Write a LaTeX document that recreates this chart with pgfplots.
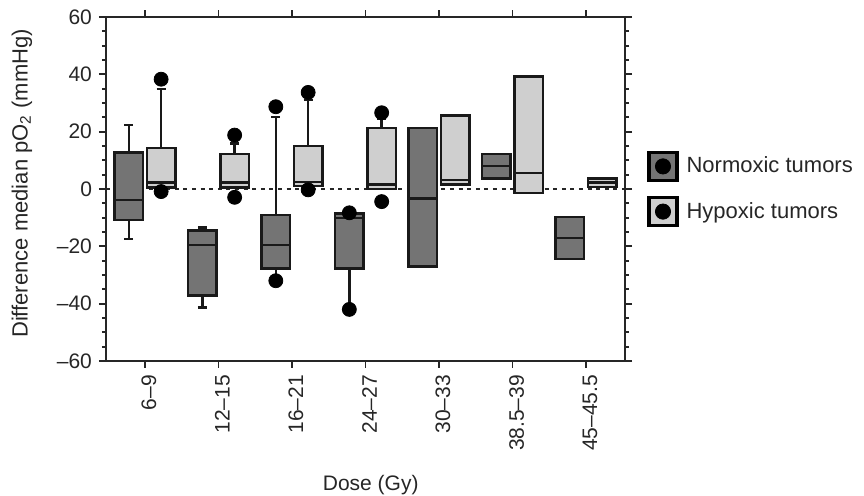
\documentclass[border=0pt]{standalone}
\usepackage{pgfplots}
\pgfplotsset{compat=1.18}
\usepgfplotslibrary{statistics}
\usepackage{fontspec}
\setmainfont{Liberation Sans}
\definecolor{normgray}{HTML}{747474}
\definecolor{hypgray}{HTML}{CFCFCF}
\definecolor{txt}{HTML}{262626}
\begin{document}
\begin{tikzpicture}
\begin{axis}[
  at={(0,0)}, anchor=south west,
  scale only axis,
  width=259.5pt, height=172pt,
  xmin=0.47, xmax=7.53,
  ymin=-60, ymax=60,
  boxplot/draw direction=y,
  axis line style={line width=1pt, black!85},
  tick style={line width=0.9pt, black!85},
  tick align=outside,
  major tick length=3.5pt,
  minor tick length=2pt,
  xtick={1,2,3,4,5,6,7},
  xticklabels={6--9,12--15,16--21,24--27,30--33,38.5--39,45--45.5},
  ytick={-60,-40,-20,0,20,40,60},
  yticklabels={--60,--40,--20,0,20,40,60},
  minor y tick num=3,
  xtick pos=both, ytick pos=both,
  tick label style={font=\fontsize{10.5}{12}\selectfont, text=txt},
  xticklabel style={rotate=90, anchor=east, yshift=-2pt},
  ylabel={Difference median pO\textsubscript{2} (mmHg)},
  xlabel={Dose (Gy)},
  every axis y label/.style={at={(axis description cs:-0.162,0.516)}, rotate=90, anchor=center, font=\fontsize{11}{13}\selectfont, text=txt},
  every axis x label/.style={at={(axis description cs:0.51,-0.36)}, anchor=center, font=\fontsize{10.5}{12}\selectfont, text=txt},
  legend style={draw=none, fill=none, at={(axis description cs:1,0.5)}, anchor=west, xshift=11pt, inner sep=0pt,
    font=\fontsize{11}{13}\selectfont, text=txt, row sep=7pt},
  legend cell align=left,
]
% zero line
\addplot[black!85, line width=1.1pt, dash pattern=on 2pt off 2.3pt, forget plot] coordinates {(0.47,0) (7.53,0)};

\pgfplotsset{
  nbox/.style={boxplot prepared={#1, box extend=0.39, whisker extend=0.12}, draw=black!90, line width=1.2pt, fill=normgray, solid, forget plot},
  hbox/.style={boxplot prepared={#1, box extend=0.39, whisker extend=0.12}, draw=black!90, line width=1.2pt, fill=hypgray, solid, forget plot},
}
% 6-9
\addplot[nbox={draw position=0.78, lower whisker=-17.5, lower quartile=-10.8, median=-3.8, upper quartile=12.8, upper whisker=22.3}] coordinates {};
\addplot[hbox={draw position=1.22, lower whisker=0.5, lower quartile=0.5, median=2.2, upper quartile=14.3, upper whisker=34.8}] coordinates {};
% 12-15
\addplot[nbox={draw position=1.78, lower whisker=-41.3, lower quartile=-37.1, median=-19.5, upper quartile=-14.5, upper whisker=-13.4}] coordinates {};
\addplot[hbox={draw position=2.22, lower whisker=0.5, lower quartile=0.5, median=2.3, upper quartile=12.3, upper whisker=15.9}] coordinates {};
% 16-21
\addplot[nbox={draw position=2.78, lower whisker=-30.5, lower quartile=-27.7, median=-19.5, upper quartile=-9.1, upper whisker=25.2}] coordinates {};
\addplot[hbox={draw position=3.22, lower whisker=1.0, lower quartile=1.0, median=2.5, upper quartile=15.0, upper whisker=31.0}] coordinates {};
% 24-27
\addplot[nbox={draw position=3.78, lower whisker=-40.5, lower quartile=-27.7, median=-10.2, upper quartile=-8.5, upper whisker=-8.5}] coordinates {};
\addplot[hbox={draw position=4.22, lower whisker=-0.1, lower quartile=-0.1, median=1.6, upper quartile=21.2, upper whisker=24.5}] coordinates {};
% 30-33
\addplot[nbox={draw position=4.78, lower whisker=-27.1, lower quartile=-27.1, median=-3.3, upper quartile=21.2, upper whisker=21.2}] coordinates {};
\addplot[hbox={draw position=5.22, lower whisker=1.6, lower quartile=1.6, median=3.1, upper quartile=25.7, upper whisker=25.7}] coordinates {};
% 38.5-39
\addplot[nbox={draw position=5.78, lower whisker=3.7, lower quartile=3.7, median=8.0, upper quartile=12.3, upper whisker=12.3}] coordinates {};
\addplot[hbox={draw position=6.22, lower whisker=-1.3, lower quartile=-1.3, median=5.5, upper quartile=39.2, upper whisker=39.2}] coordinates {};
% 45-45.5
\addplot[nbox={draw position=6.78, lower whisker=-24.4, lower quartile=-24.4, median=-17.0, upper quartile=-9.7, upper whisker=-9.7}] coordinates {};
\addplot[hbox={draw position=7.22, lower whisker=0.6, lower quartile=0.6, median=2.2, upper quartile=3.7, upper whisker=3.7}] coordinates {};

% outliers
\addplot[only marks, mark=*, mark size=3.5pt, black, forget plot] coordinates {
 (1.22,38.3) (1.22,-0.9)
 (2.22,18.8) (2.22,-2.9)
 (2.78,28.7) (2.78,-32.0)
 (3.22,33.7) (3.22,-0.3)
 (3.78,-8.3) (3.78,-42.0)
 (4.22,26.6) (4.22,-4.4)
};

\addlegendimage{legend image code/.code={\draw[line width=1.6pt, black, fill=normgray] (0pt,-7pt) rectangle (14pt,7pt); \fill[black] (7pt,0pt) circle (3.8pt);}}
\addlegendentry{\hspace{2pt}Normoxic tumors}
\addlegendimage{legend image code/.code={\draw[line width=1.6pt, black, fill=hypgray] (0pt,-7pt) rectangle (14pt,7pt); \fill[black] (7pt,0pt) circle (3.8pt);}}
\addlegendentry{\hspace{2pt}Hypoxic tumors}
\end{axis}
\pgfresetboundingbox
\path[use as bounding box] (-53pt,-67.5pt) rectangle (379pt,180.5pt);
\end{tikzpicture}
\end{document}
